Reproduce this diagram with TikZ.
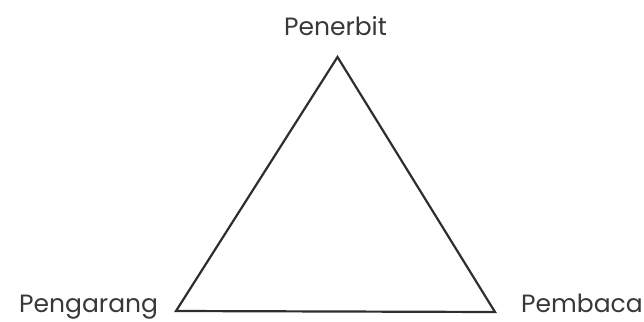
\documentclass[tikz,border=0pt]{standalone}
\usepackage{fontspec}
\setmainfont{Poppins}
\begin{document}
\begin{tikzpicture}[x=1pt,y=-1pt,
  lbl/.style={inner sep=0pt, text=black!78, font=\fontsize{25}{30}\selectfont},
  edge/.style={draw=black!82, line width=2.2pt, line join=miter}]
\useasboundingbox (0,0) rectangle (644,321);
\coordinate (top) at (337.5,57);
\coordinate (bl) at (176,311);
\coordinate (br) at (495,312);
\draw[edge] (top) -- (bl) -- (br) -- cycle;
\node[lbl, anchor=base] (penerbit) at (335.5,36) {Penerbit};
\node[lbl, anchor=base west] (pengarang) at (19,312) {Pengarang};
\node[lbl, anchor=base east] (pembaca) at (643,312) {Pembaca};
\end{tikzpicture}
\end{document}
